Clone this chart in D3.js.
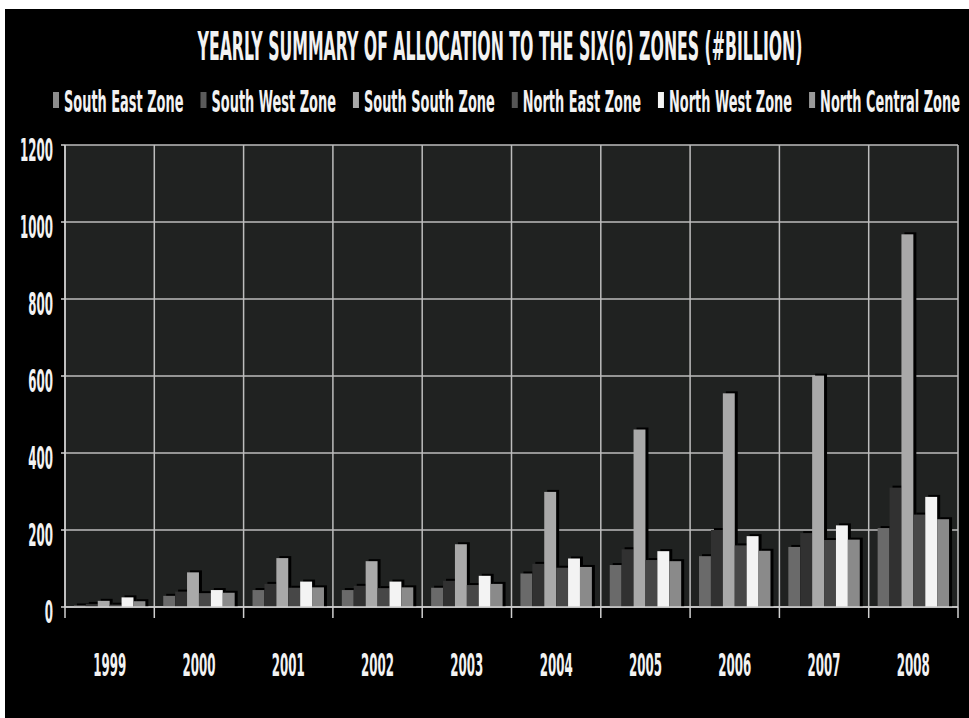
<!DOCTYPE html>
<html>
<head>
<meta charset="utf-8">
<script src="https://cdn.jsdelivr.net/npm/d3@7"></script>
<style>
  html, body { margin: 0; padding: 0; background: #fff; }
  svg text { font-family: "Liberation Sans Narrow", "DejaVu Sans Condensed", "Liberation Sans", sans-serif; font-weight: bold; fill: #f2f2f2; }
</style>
</head>
<body>
<svg id="chart" width="969" height="718"></svg>
<script>
// chart values (# billion)
const years = ["1999", "2000", "2001", "2002", "2003", "2004", "2005", "2006", "2007", "2008"];
const zones = ["South East Zone", "South West Zone", "South South Zone", "North East Zone", "North West Zone", "North Central Zone"];
const southEast    = [4, 29, 44, 44, 50, 87, 109, 132, 156, 205];
const southWest    = [8, 40, 60, 55, 68, 112, 150, 200, 192, 310];
const southSouth   = [16, 90, 127, 119, 163, 299, 461, 555, 601, 968];
const northEast    = [6, 36, 50, 49, 57, 102, 122, 160, 174, 240];
const northWest    = [25, 44, 66, 66, 81, 126, 145, 184, 212, 286];
const northCentral = [15, 37, 51, 51, 60, 104, 119, 146, 175, 228];
const yTicks = [0, 200, 400, 600, 800, 1000, 1200];
const zoneColors = ["#6a6a6a", "#313131", "#a9a9a9", "#474747", "#f3f3f3", "#8a8a8a"];
const swatchColors = ["#8c8c8c", "#5a5a5a", "#a9a9a9", "#555555", "#f3f3f3", "#9a9a9a"];

const seriesList = [southEast, southWest, southSouth, northEast, northWest, northCentral];

const svg = d3.select("#chart");
const W = 969, H = 718;
const plot = { left: 65, right: 958, top: 145, bottom: 607 };

// the original uses a very narrow bold face: squash text horizontally around its anchor
function placeSquashed(sel, xf, yf, k) {
  sel.attr("x", 0).attr("y", 0)
    .attr("transform", (d, i) => `translate(${xf(d, i)},${yf(d, i)}) scale(${k},1)`);
}

// black card behind everything (scan has a thin white border top/left)
svg.append("rect").attr("x", 5).attr("y", 9).attr("width", W - 5).attr("height", H - 9).attr("fill", "#000");

/* ---------- Scales ---------- */
const x0 = d3.scaleBand().domain(years).range([plot.left, plot.right]).paddingInner(0).paddingOuter(0);
const x1 = d3.scaleBand().domain(zones).range([0, x0.bandwidth()]).paddingInner(0).paddingOuter(0.75);
const y = d3.scaleLinear().domain([0, 1200]).range([plot.bottom, plot.top]);

// plot area
svg.append("rect")
  .attr("x", plot.left).attr("y", plot.top)
  .attr("width", plot.right - plot.left).attr("height", plot.bottom - plot.top)
  .attr("fill", "#202221");

/* ---------- Gridlines ---------- */
const grid = svg.append("g").attr("stroke", "#bdbdbd").attr("stroke-width", 1.5);
grid.selectAll("line.h").data(yTicks).join("line").attr("class", "h")
  .attr("x1", plot.left).attr("x2", plot.right)
  .attr("y1", d => y(d)).attr("y2", d => y(d));
const bounds = years.map(d => x0(d)).concat([plot.right]);
grid.selectAll("line.v").data(bounds).join("line").attr("class", "v")
  .attr("x1", d => d).attr("x2", d => d)
  .attr("y1", plot.top).attr("y2", plot.bottom);

/* ---------- Bars ---------- */
const rows = years.map((yr, i) => ({ year: yr, vals: zones.map((z, j) => ({ zone: z, j, v: seriesList[j][i] })) }));

const groups = svg.append("g").selectAll("g").data(rows).join("g")
  .attr("transform", d => `translate(${x0(d.year)},0)`);

// dark shadow to the right of each bar
groups.selectAll("rect.shadow").data(d => d.vals).join("rect").attr("class", "shadow")
  .attr("x", d => x1(d.zone) + 3).attr("y", d => y(d.v) - 2)
  .attr("width", x1.bandwidth()).attr("height", d => plot.bottom - y(d.v) + 2)
  .attr("fill", "#000");

groups.selectAll("rect.bar").data(d => d.vals).join("rect").attr("class", "bar")
  .attr("x", d => x1(d.zone)).attr("y", d => y(d.v))
  .attr("width", x1.bandwidth()).attr("height", d => plot.bottom - y(d.v))
  .attr("fill", d => zoneColors[d.j]);

/* ---------- Axes ---------- */
const axisG = svg.append("g").attr("stroke", "#d0d0d0").attr("stroke-width", 1.5);
axisG.append("line").attr("x1", plot.left).attr("x2", plot.left).attr("y1", plot.top).attr("y2", plot.bottom);
axisG.append("line").attr("x1", plot.left).attr("x2", plot.right).attr("y1", plot.bottom).attr("y2", plot.bottom);
axisG.selectAll("line.xt").data(bounds).join("line").attr("class", "xt")
  .attr("x1", d => d).attr("x2", d => d).attr("y1", plot.bottom).attr("y2", plot.bottom + 11);
axisG.selectAll("line.yt").data(yTicks).join("line").attr("class", "yt")
  .attr("x1", plot.left - 4).attr("x2", plot.left).attr("y1", d => y(d)).attr("y2", d => y(d));

// year labels
const yearLabels = svg.append("g").selectAll("text").data(years).join("text")
  .attr("text-anchor", "middle").attr("font-size", 32)
  .text(d => d);
const kNum = 33 / yearLabels.node().getComputedTextLength();
placeSquashed(yearLabels, d => x0(d) + x0.bandwidth() / 2, () => 676, kNum);

// value labels
const yLabels = svg.append("g").selectAll("text").data(yTicks).join("text")
  .attr("text-anchor", "end").attr("font-size", 32)
  .text(d => d);
placeSquashed(yLabels, () => 53, d => y(d) + 16, kNum);

/* ---------- Title ---------- */
const title = svg.append("text")
  .attr("text-anchor", "middle").attr("font-size", 39)
  .text("YEARLY SUMMARY OF ALLOCATION TO THE SIX(6) ZONES (#BILLION)");
const kTitle = 605 / title.node().getComputedTextLength();
placeSquashed(title, () => 500, () => 60, kTitle);

/* ---------- Legend ---------- */
const legend = svg.append("g");
const legTexts = legend.selectAll("text").data(zones).join("text")
  .attr("font-size", 30).text(d => d);
const natural = [];
legTexts.each(function() { natural.push(this.getComputedTextLength()); });
const kLeg = 756 / d3.sum(natural);
const legX = [];
let lx = 53;
natural.forEach(w => { legX.push(lx); lx += 11 + w * kLeg + 17; });
legend.selectAll("rect").data(zones).join("rect")
  .attr("x", (d, i) => legX[i]).attr("y", 92).attr("width", 6).attr("height", 16)
  .attr("fill", (d, i) => swatchColors[i]);
placeSquashed(legTexts, (d, i) => legX[i] + 11, () => 112, kLeg);
</script>
</body>
</html>
